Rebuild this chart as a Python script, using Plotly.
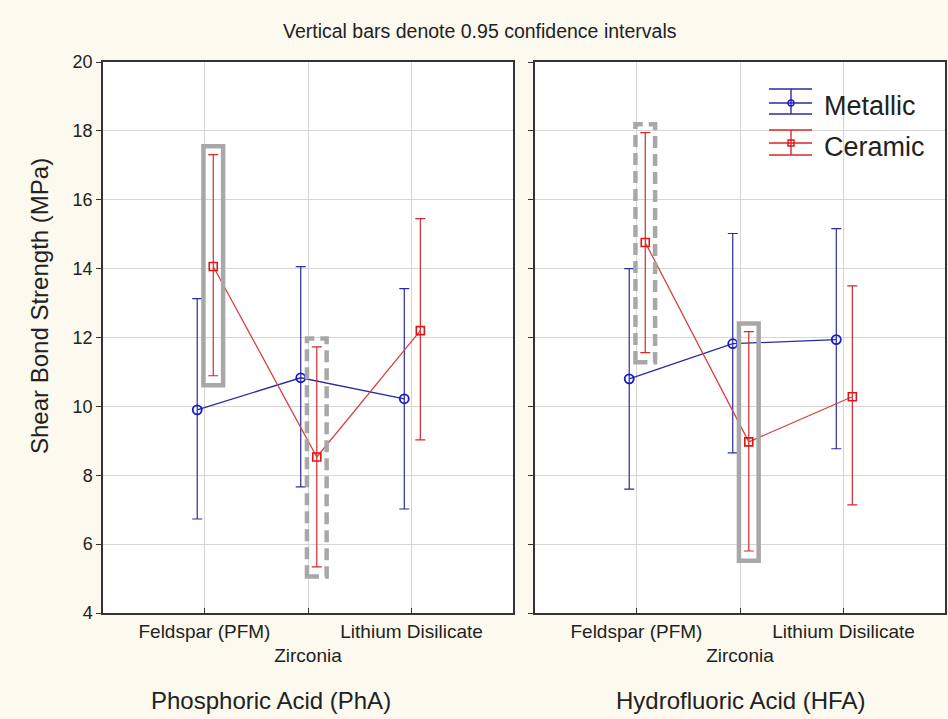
import plotly.graph_objects as go

# ---------------- data ----------------
categories = ["Feldspar (PFM)", "Zirconia", "Lithium Disilicate"]
tick_labels = ["Feldspar (PFM)", "<br>Zirconia", "Lithium Disilicate"]
groups = ["Phosphoric Acid (PhA)", "Hydrofluoric Acid (HFA)"]
series_names = ["Metallic", "Ceramic"]

pha_metallic_mean = [9.90, 10.83, 10.22]
pha_metallic_upper = [13.13, 14.06, 13.42]
pha_metallic_lower = [6.73, 7.66, 7.02]

pha_ceramic_mean = [14.06, 8.53, 12.20]
pha_ceramic_upper = [17.31, 11.73, 15.45]
pha_ceramic_lower = [10.89, 5.34, 9.03]

hfa_metallic_mean = [10.80, 11.82, 11.94]
hfa_metallic_upper = [14.00, 15.02, 15.16]
hfa_metallic_lower = [7.60, 8.65, 8.77]

hfa_ceramic_mean = [14.76, 8.97, 10.28]
hfa_ceramic_upper = [17.95, 12.17, 13.50]
hfa_ceramic_lower = [11.56, 5.80, 7.14]

y_ticks = [4, 6, 8, 10, 12, 14, 16, 18, 20]

# highlighted ceramic intervals: (panel index, category index, dash)
highlights = [(0, 0, "solid"), (0, 1, "dash"), (1, 0, "dash"), (1, 1, "solid")]

# ---------------- styling ----------------
W, H = 948, 719
BG = "#fcf9ef"
BLUE_LINE = "#2b2b9e"
BLUE_MARK = "#1818d0"
RED_LINE = "#d44444"
RED_ERR = "#d42a2a"
RED_MARK = "#e01414"
GRAY = "#a8a8a8"
FONT = "Liberation Sans, Arial, sans-serif"
OFF_M, OFF_C = -0.07, 0.085


def px(x):
    return x / W


def py(y):
    return 1 - y / H


fig = go.Figure()

panels = [
    (pha_metallic_mean, pha_metallic_upper, pha_metallic_lower,
     pha_ceramic_mean, pha_ceramic_upper, pha_ceramic_lower),
    (hfa_metallic_mean, hfa_metallic_upper, hfa_metallic_lower,
     hfa_ceramic_mean, hfa_ceramic_upper, hfa_ceramic_lower),
]

xpos = [i + 1 for i in range(len(categories))]

for p, (mm, mu, ml, cm, cu, cl) in enumerate(panels):
    xa = "x" if p == 0 else "x2"
    ya = "y" if p == 0 else "y2"
    fig.add_trace(go.Scatter(
        x=[v + OFF_M for v in xpos], y=mm, xaxis=xa, yaxis=ya,
        mode="lines+markers", name=series_names[0], showlegend=False,
        line=dict(color=BLUE_LINE, width=1.3),
        marker=dict(symbol="circle-open", size=9, color=BLUE_MARK, line=dict(width=1.8, color=BLUE_MARK)),
        error_y=dict(type="data", symmetric=False,
                     array=[u - m for u, m in zip(mu, mm)],
                     arrayminus=[m - l for m, l in zip(mm, ml)],
                     color=BLUE_LINE, thickness=1.2, width=5),
    ))
    fig.add_trace(go.Scatter(
        x=[v + OFF_C for v in xpos], y=cm, xaxis=xa, yaxis=ya,
        mode="lines+markers", name=series_names[1], showlegend=False,
        line=dict(color=RED_LINE, width=1.3),
        marker=dict(symbol="square-open", size=8, color=RED_MARK, line=dict(width=1.6, color=RED_MARK)),
        error_y=dict(type="data", symmetric=False,
                     array=[u - m for u, m in zip(cu, cm)],
                     arrayminus=[m - l for m, l in zip(cm, cl)],
                     color=RED_ERR, thickness=1.2, width=5),
    ))

# gray highlight boxes around ceramic intervals
for p, ci, dash in highlights:
    cu = panels[p][4]
    cl = panels[p][5]
    xc = xpos[ci] + OFF_C
    fig.add_shape(type="rect",
                  xref="x" if p == 0 else "x2", yref="y" if p == 0 else "y2",
                  x0=xc - 0.095, x1=xc + 0.095,
                  y0=cl[ci] - 0.28, y1=cu[ci] + 0.24,
                  line=dict(color=GRAY, width=4.5,
                            dash="solid" if dash == "solid" else "12px,6px"),
                  layer="above")

axis_common = dict(
    range=[0.02, 3.98], tickmode="array", tickvals=xpos, ticktext=tick_labels,
    tickangle=0, automargin=False,
    showgrid=True, gridcolor="#d6d6d6", gridwidth=1,
    showline=True, linecolor="#333333", linewidth=1.5, mirror=True,
    ticks="inside", ticklen=5, tickcolor="#333333",
    tickfont=dict(family=FONT, size=19, color="#222222"),
    zeroline=False, fixedrange=True,
)
yaxis_common = dict(
    range=[4, 20], tickmode="array", tickvals=y_ticks, automargin=False,
    showgrid=True, gridcolor="#d6d6d6", gridwidth=1,
    showline=True, linecolor="#333333", linewidth=1.5, mirror=True,
    ticks="outside", ticklen=5, tickcolor="#333333",
    tickfont=dict(family=FONT, size=18, color="#222222"),
    zeroline=False, fixedrange=True,
)

fig.update_layout(
    width=W, height=H,
    margin=dict(l=0, r=0, t=0, b=0, autoexpand=False),
    paper_bgcolor=BG, plot_bgcolor="white",
    showlegend=False,
    xaxis=dict(domain=[px(103), px(513)], anchor="y", **axis_common),
    xaxis2=dict(domain=[px(535), px(945)], anchor="y2", **axis_common),
    yaxis=dict(domain=[py(613), py(62)], anchor="x", showticklabels=True, **yaxis_common),
    yaxis2=dict(domain=[py(613), py(62)], anchor="x2", showticklabels=False, **yaxis_common),
)

annotations = [
    dict(text="Vertical bars denote 0.95 confidence intervals", x=px(480), y=py(31),
         font=dict(family=FONT, size=19.5, color="#222222")),
    dict(text="Shear Bond Strength (MPa)", x=px(40), y=py(306), textangle=-90,
         font=dict(family=FONT, size=24, color="#222222")),
    dict(text=groups[0], x=px(271), y=py(700), font=dict(family=FONT, size=24, color="#222222")),
    dict(text=groups[1], x=px(740), y=py(700), font=dict(family=FONT, size=24, color="#222222")),
    dict(text=series_names[0], x=px(822), y=py(106), xanchor="left",
         font=dict(family=FONT, size=27, color="#222222")),
    dict(text=series_names[1], x=px(822), y=py(147), xanchor="left",
         font=dict(family=FONT, size=27, color="#222222")),
]
for a in annotations:
    a.setdefault("xanchor", "center")
    a.update(xref="paper", yref="paper", yanchor="middle", showarrow=False)
fig.update_layout(annotations=annotations)

# custom legend symbols (error-bar glyphs)
legend_items = [(103, 89, 114, BLUE_LINE, BLUE_MARK, "circle"), (143, 130, 155, RED_ERR, RED_MARK, "square")]
for ymid, ytop, ybot, lc, mc, sym in legend_items:
    for yy in (ytop, ymid, ybot):
        fig.add_shape(type="line", xref="paper", yref="paper",
                      x0=px(769), x1=px(812), y0=py(yy), y1=py(yy),
                      line=dict(color=lc, width=1.4))
    fig.add_shape(type="line", xref="paper", yref="paper",
                  x0=px(791), x1=px(791), y0=py(ytop), y1=py(ybot),
                  line=dict(color=lc, width=1.4))
    fig.add_shape(type="circle" if sym == "circle" else "rect", xref="paper", yref="paper",
                  x0=px(788), x1=px(794), y0=py(ymid - 3), y1=py(ymid + 3),
                  line=dict(color=mc, width=1.4), fillcolor="rgba(0,0,0,0)")

fig.write_html(
    "out.html",
    config={"displayModeBar": False},
    post_script="document.body.style.margin='0';document.body.style.padding='0';"
                "document.body.style.background='" + BG + "';",
)
